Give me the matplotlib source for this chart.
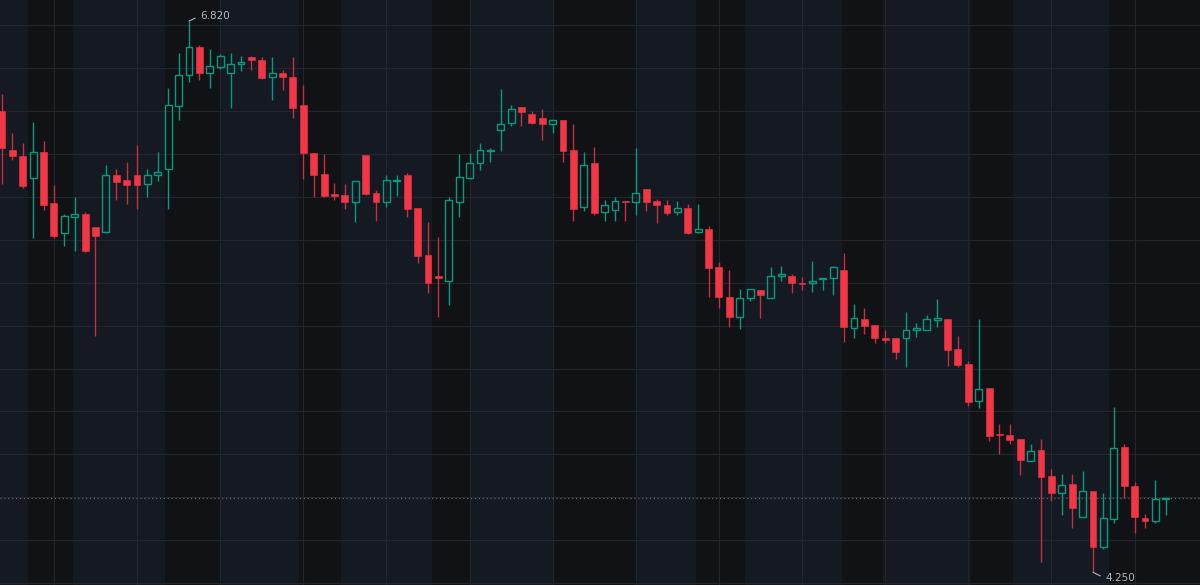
import matplotlib
matplotlib.use('Agg')
import matplotlib.pyplot as plt

# ---- data (OHLC per bar) ----
opens = [6.40, 6.22, 6.19, 6.09, 6.21, 5.97, 5.83, 5.905, 5.92, 5.86,
         5.835, 6.10, 6.08, 6.10, 6.06, 6.10, 6.13, 6.425, 6.57, 6.70,
         6.58, 6.605, 6.58, 6.62, 6.65, 6.64, 6.56, 6.58, 6.56, 6.43,
         6.205, 6.105, 6.015, 6.01, 5.975, 6.195, 6.02, 5.975, 6.075, 6.10,
         5.95, 5.73, 5.63, 5.61, 5.975, 6.09, 6.16, 6.215, 6.31, 6.345,
         6.42, 6.385, 6.37, 6.34, 6.36, 6.22, 5.955, 6.16, 5.93, 5.94,
         5.98, 5.975, 6.035, 5.98, 5.96, 5.93, 5.95, 5.835, 5.85, 5.675,
         5.535, 5.44, 5.53, 5.565, 5.53, 5.63, 5.63, 5.60, 5.60, 5.615,
         5.62, 5.66, 5.39, 5.43, 5.405, 5.34, 5.34, 5.34, 5.38, 5.38,
         5.425, 5.43, 5.29, 5.22, 5.05, 5.11, 4.895, 4.89, 4.87, 4.77,
         4.82, 4.70, 4.62, 4.66, 4.51, 4.63, 4.37, 4.50, 4.835, 4.65,
         4.505, 4.49, 4.59]
highs = [6.48, 6.30, 6.25, 6.35, 6.26, 6.055, 5.92, 6.00, 5.93, 5.86,
         6.15, 6.13, 6.165, 6.24, 6.13, 6.21, 6.51, 6.67, 6.82, 6.71,
         6.69, 6.665, 6.67, 6.655, 6.655, 6.65, 6.65, 6.59, 6.65, 6.52,
         6.205, 6.20, 6.065, 6.06, 6.075, 6.195, 6.03, 6.10, 6.10, 6.11,
         5.95, 5.885, 5.815, 6.00, 6.20, 6.205, 6.25, 6.23, 6.505, 6.43,
         6.42, 6.40, 6.41, 6.36, 6.36, 6.34, 6.21, 6.235, 5.985, 6.00,
         5.98, 6.23, 6.035, 5.99, 5.985, 5.98, 5.965, 5.965, 5.865, 5.695,
         5.66, 5.57, 5.57, 5.565, 5.675, 5.68, 5.64, 5.625, 5.70, 5.62,
         5.68, 5.74, 5.50, 5.48, 5.405, 5.38, 5.34, 5.465, 5.41, 5.45,
         5.525, 5.43, 5.35, 5.235, 5.43, 5.11, 4.94, 4.94, 4.87, 4.85,
         4.87, 4.73, 4.71, 4.71, 4.72, 4.63, 4.62, 5.02, 4.85, 4.67,
         4.52, 4.68, 4.595]
lows = [6.06, 6.17, 6.04, 5.81, 5.94, 5.81, 5.77, 5.75, 5.745, 5.35,
        5.83, 5.985, 5.965, 5.945, 6.00, 6.075, 5.945, 6.36, 6.535, 6.545,
        6.51, 6.595, 6.415, 6.585, 6.59, 6.55, 6.45, 6.50, 6.37, 6.085,
        6.00, 6.00, 5.985, 5.945, 5.885, 6.01, 5.89, 5.955, 6.005, 5.905,
        5.69, 5.55, 5.44, 5.495, 5.905, 6.085, 6.125, 6.165, 6.215, 6.33,
        6.33, 6.34, 6.265, 6.30, 6.165, 5.89, 5.935, 5.915, 5.89, 5.89,
        5.89, 5.915, 5.935, 5.88, 5.915, 5.915, 5.825, 5.83, 5.535, 5.48,
        5.395, 5.385, 5.515, 5.435, 5.53, 5.61, 5.55, 5.565, 5.555, 5.565,
        5.545, 5.325, 5.34, 5.36, 5.32, 5.32, 5.245, 5.205, 5.345, 5.38,
        5.395, 5.21, 5.205, 5.025, 5.015, 4.86, 4.80, 4.85, 4.705, 4.77,
        4.30, 4.58, 4.515, 4.455, 4.51, 4.25, 4.36, 4.48, 4.595, 4.435,
        4.455, 4.48, 4.515]
closes = [6.23, 6.19, 6.05, 6.21, 5.96, 5.82, 5.91, 5.92, 5.75, 5.82,
          6.10, 6.07, 6.055, 6.055, 6.10, 6.115, 6.43, 6.57, 6.70, 6.58,
          6.61, 6.655, 6.62, 6.63, 6.64, 6.555, 6.58, 6.56, 6.415, 6.205,
          6.10, 6.005, 6.005, 5.975, 6.075, 6.015, 5.975, 6.08, 6.08, 5.945,
          5.725, 5.60, 5.62, 5.985, 6.095, 6.16, 6.22, 6.22, 6.34, 6.41,
          6.395, 6.345, 6.34, 6.36, 6.215, 5.945, 6.15, 5.925, 5.96, 5.98,
          5.975, 6.02, 5.975, 5.96, 5.925, 5.95, 5.83, 5.85, 5.67, 5.535,
          5.44, 5.53, 5.57, 5.545, 5.63, 5.64, 5.60, 5.595, 5.61, 5.62,
          5.675, 5.395, 5.435, 5.40, 5.34, 5.335, 5.275, 5.38, 5.39, 5.43,
          5.435, 5.285, 5.215, 5.045, 5.105, 4.885, 4.89, 4.865, 4.775, 4.815,
          4.695, 4.62, 4.655, 4.55, 4.63, 4.37, 4.505, 4.83, 4.65, 4.51,
          4.49, 4.59, 4.595]

# shaded session bands (bar-index ranges) and grid
bands = [(2.5, 6.8), (15.7, 21.0), (28.6, 32.6), (41.4, 45.1), (53.0, 61.0),
         (66.8, 71.5), (80.8, 84.8), (93.3, 97.3), (106.5, 116.0)]
vgrid = [5, 13, 21, 29, 37, 45, 53, 61, 69, 77, 85, 93, 101, 109]
hgrid = [4.2, 4.4, 4.6, 4.8, 5.0, 5.2, 5.4, 5.6, 5.8, 6.0, 6.2, 6.4, 6.6, 6.8]
hi_label = "6.820"
lo_label = "4.250"

# ---- styling ----
BG = '#151922'
BAND = '#111215'
GRID = '#22262f'
UP = '#089981'
DOWN = '#f23645'
TXT = '#b2b5be'

fig = plt.figure(figsize=(12, 5.85), dpi=100)
fig.patch.set_facecolor(BG)
ax = fig.add_axes([0, 0, 1, 1])
ax.set_facecolor(BG)
for s in ax.spines.values():
    s.set_visible(False)
ax.set_xticks([])
ax.set_yticks([])

ax.set_xlim(-0.19, 115.3)
ax.set_ylim(4.1907, 6.918)

for a, b in bands:
    ax.axvspan(a, b, color=BAND, lw=0, zorder=0)
for x in vgrid:
    ax.axvline(x, color=GRID, lw=0.8, zorder=0.5)
for y in hgrid:
    ax.axhline(y, color=GRID, lw=0.8, zorder=0.5)

W = 0.66
for i, (o, h, l, c) in enumerate(zip(opens, highs, lows, closes)):
    up = c >= o
    col = UP if up else DOWN
    top = max(o, c)
    bot = min(o, c)
    hgt = max(top - bot, 0.004)
    if up:
        if h > top:
            ax.vlines(i, top, h, color=col, lw=1.0, zorder=2)
        if l < bot:
            ax.vlines(i, l, bot, color=col, lw=1.0, zorder=2)
        ax.bar(i, hgt, bottom=bot, width=W, facecolor='none',
               edgecolor=col, linewidth=1.0, zorder=3)
    else:
        ax.vlines(i, l, h, color='#c52f42', lw=1.0, zorder=2)
        ax.bar(i, hgt, bottom=bot, width=W, color=col,
               edgecolor=col, linewidth=0.4, zorder=3)

# last price dotted line
ax.axhline(closes[-1], color='#6a6d78', lw=0.8, ls=(0, (1, 2.5)), zorder=1)

# high / low markers
ih = highs.index(max(highs))
il = lows.index(min(lows))
ax.annotate(hi_label, xy=(ih, highs[ih]), xytext=(11, 5),
            textcoords='offset pixels', ha='left', va='center',
            color=TXT, fontsize=7.5, family='DejaVu Sans',
            arrowprops=dict(arrowstyle='-', color=TXT, lw=0.8,
                            shrinkA=1.5, shrinkB=0, relpos=(0, 0.5)))
ax.annotate(lo_label, xy=(il, lows[il]), xytext=(12, -6),
            textcoords='offset pixels', ha='left', va='center',
            color=TXT, fontsize=7.5, family='DejaVu Sans',
            arrowprops=dict(arrowstyle='-', color=TXT, lw=0.8,
                            shrinkA=1.5, shrinkB=0, relpos=(0, 0.5)))

fig.savefig('out.png', dpi=100, facecolor=BG)
